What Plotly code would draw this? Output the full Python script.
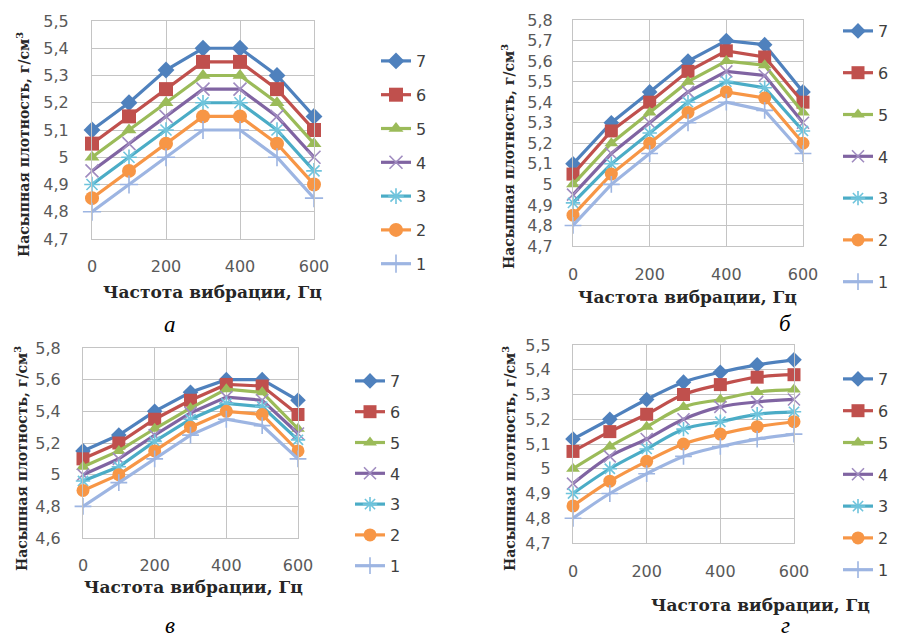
import plotly.graph_objects as go

# ---------------- data ----------------
freq = [0, 100, 200, 300, 400, 500, 600]
series_names = ["7", "6", "5", "4", "3", "2", "1"]
x_title = "Частота вибрации, Гц"
y_title = "Насыпная плотность, г/см<sup>3</sup>"
panel_letters = ["а", "б", "в", "г"]

# panel а (series 7 .. 1)
density_a = [
    [5.10, 5.20, 5.32, 5.40, 5.40, 5.30, 5.15],
    [5.05, 5.15, 5.25, 5.35, 5.35, 5.25, 5.10],
    [5.00, 5.10, 5.20, 5.30, 5.30, 5.20, 5.05],
    [4.95, 5.05, 5.15, 5.25, 5.25, 5.15, 5.00],
    [4.90, 5.00, 5.10, 5.20, 5.20, 5.10, 4.95],
    [4.85, 4.95, 5.05, 5.15, 5.15, 5.05, 4.90],
    [4.80, 4.90, 5.00, 5.10, 5.10, 5.00, 4.85],
]
# panel б
density_b = [
    [5.10, 5.30, 5.45, 5.60, 5.70, 5.68, 5.45],
    [5.05, 5.26, 5.40, 5.55, 5.65, 5.62, 5.40],
    [5.00, 5.20, 5.35, 5.50, 5.60, 5.58, 5.35],
    [4.95, 5.15, 5.30, 5.45, 5.55, 5.53, 5.30],
    [4.91, 5.10, 5.25, 5.40, 5.50, 5.47, 5.26],
    [4.85, 5.05, 5.20, 5.35, 5.45, 5.42, 5.20],
    [4.80, 5.00, 5.15, 5.30, 5.40, 5.36, 5.15],
]
# panel в
density_v = [
    [5.15, 5.25, 5.40, 5.52, 5.60, 5.60, 5.47],
    [5.10, 5.20, 5.35, 5.47, 5.57, 5.56, 5.38],
    [5.05, 5.15, 5.29, 5.42, 5.54, 5.52, 5.29],
    [5.00, 5.10, 5.25, 5.39, 5.49, 5.47, 5.26],
    [4.96, 5.05, 5.21, 5.35, 5.45, 5.43, 5.22],
    [4.90, 5.00, 5.15, 5.30, 5.40, 5.38, 5.15],
    [4.80, 4.95, 5.10, 5.25, 5.35, 5.31, 5.10],
]
# panel г
density_g = [
    [5.12, 5.20, 5.28, 5.35, 5.39, 5.42, 5.44],
    [5.07, 5.15, 5.22, 5.30, 5.34, 5.37, 5.38],
    [5.00, 5.09, 5.17, 5.25, 5.28, 5.31, 5.32],
    [4.94, 5.05, 5.12, 5.20, 5.25, 5.27, 5.28],
    [4.90, 5.00, 5.08, 5.16, 5.19, 5.22, 5.23],
    [4.85, 4.95, 5.03, 5.10, 5.14, 5.17, 5.19],
    [4.80, 4.90, 4.98, 5.05, 5.09, 5.12, 5.14],
]

# ---------------- styles ----------------
OFF = 8                      # default page margin around the figure
W, H = 901 - OFF, 640 - OFF
colors = ["#4F81BD", "#C0504D", "#9BBB59", "#8064A2", "#4BACC6", "#F79646", "#9DB5E2"]
mark_colors = ["#4F81BD", "#C0504D", "#9BBB59", "#A08CC0", "#6FC4DC", "#F79646", "#9DB5E2"]
symbols = ["diamond", "square", "triangle-up", "x-thin", "asterisk", "circle", "cross-thin"]
thin = [False, False, False, True, True, False, True]
grid_c = "#c4c4c4"
tick_font = dict(family="DejaVu Sans", size=16, color="#595959")
title_family = "DejaVu Serif"


def fx(p):
    return (p - OFF) / W


def fy(p):
    return 1 - (p - OFF) / H


panels = [
    dict(data=density_a, xd=(92, 314), yd=(21, 239), yr=(4.7, 5.5), dt=0.1, spline=False,
         ystand=19, xstand=13, legx=376, legy=44, gap=10, msz=14,
         ytp=(23, 145), xtp=(212, 292), letter=(170, 324, "middle")),
    dict(data=density_b, xd=(573, 803), yd=(20, 246), yr=(4.7, 5.8), dt=0.1, spline=False,
         ystand=16, xstand=14, legx=838, legy=14, gap=18, msz=13,
         ytp=(508, 157), xtp=(687, 297), letter=(785, 323, "middle")),
    dict(data=density_v, xd=(83, 298), yd=(348, 538), yr=(4.6, 5.8), dt=0.2, spline=False,
         ystand=18, xstand=13, legx=350, legy=364, gap=7, msz=13,
         ytp=(21, 459), xtp=(193, 587), letter=(170, 640, "bottom")),
    dict(data=density_g, xd=(573, 794), yd=(345, 543), yr=(4.7, 5.5), dt=0.1, spline=True,
         ystand=18, xstand=14, legx=838, legy=362, gap=8, msz=13,
         ytp=(509, 459), xtp=(760, 605), letter=(785, 640, "bottom")),
]

fig = go.Figure()
layout = dict(
    width=W, height=H, margin=dict(l=0, r=0, t=0, b=0, autoexpand=False),
    paper_bgcolor="white", plot_bgcolor="white",
    separators=", ", showlegend=True, annotations=[],
)

for i, p in enumerate(panels):
    sfx = "" if i == 0 else str(i + 1)
    xa, ya, lg = "x" + sfx, "y" + sfx, "legend" + sfx
    for j, name in enumerate(series_names):
        msize = p["msz"] - (1 if symbols[j] in ("diamond", "triangle-up") or thin[j] else 0)
        fig.add_trace(go.Scatter(
            x=freq, y=p["data"][j], name=name, mode="lines+markers",
            xaxis=xa, yaxis=ya, legend=lg, legendgroup=f"p{i}s{name}",
            cliponaxis=False,
            line=dict(color=colors[j], width=3.2, shape="spline" if p["spline"] else "linear"),
            marker=dict(symbol=symbols[j], size=msize, color=mark_colors[j],
                        line=dict(color=mark_colors[j], width=1.6 if thin[j] else 0)),
        ))
    layout["xaxis" + sfx] = dict(
        domain=[fx(p["xd"][0]), fx(p["xd"][1])], anchor=ya, range=[0, 600],
        tick0=0, dtick=200, showgrid=True, gridcolor=grid_c, gridwidth=1,
        showline=True, linecolor=grid_c, linewidth=1, mirror=True, zeroline=False,
        ticks="", tickfont=tick_font, ticklabelstandoff=p["xstand"], fixedrange=True,
        automargin=False,
    )
    layout["yaxis" + sfx] = dict(
        domain=[fy(p["yd"][1]), fy(p["yd"][0])], anchor=xa, range=list(p["yr"]),
        tick0=p["yr"][0], dtick=p["dt"], showgrid=True, gridcolor=grid_c, gridwidth=1,
        showline=True, linecolor=grid_c, linewidth=1, mirror=True, zeroline=False,
        ticks="", tickfont=tick_font, ticklabelstandoff=p["ystand"], fixedrange=True,
        automargin=False,
    )
    layout[lg] = dict(
        x=fx(p["legx"]), y=fy(p["legy"]), xanchor="left", yanchor="top",
        font=dict(family="DejaVu Sans", size=16, color="#404040"),
        tracegroupgap=p["gap"], bgcolor="rgba(0,0,0,0)",
        traceorder="grouped",
    )
    layout["annotations"] += [
        dict(text=f"<b>{y_title}</b>", x=fx(p["ytp"][0]), y=fy(p["ytp"][1]),
             xref="paper", yref="paper", textangle=-90, showarrow=False,
             xanchor="center", yanchor="middle",
             font=dict(family=title_family, size=14, color="#262626")),
        dict(text=f"<b>{x_title}</b>", x=fx(p["xtp"][0]), y=fy(p["xtp"][1]),
             xref="paper", yref="paper", showarrow=False,
             xanchor="center", yanchor="middle",
             font=dict(family=title_family, size=17, color="#262626")),
        dict(text=f"<i>{panel_letters[i]}</i>", x=fx(p["letter"][0]), y=fy(p["letter"][1]),
             xref="paper", yref="paper", showarrow=False,
             xanchor="center", yanchor=p["letter"][2],
             font=dict(family="Liberation Serif", size=23, color="black")),
    ]

fig.update_layout(**layout)
fig.write_html("out.html")
